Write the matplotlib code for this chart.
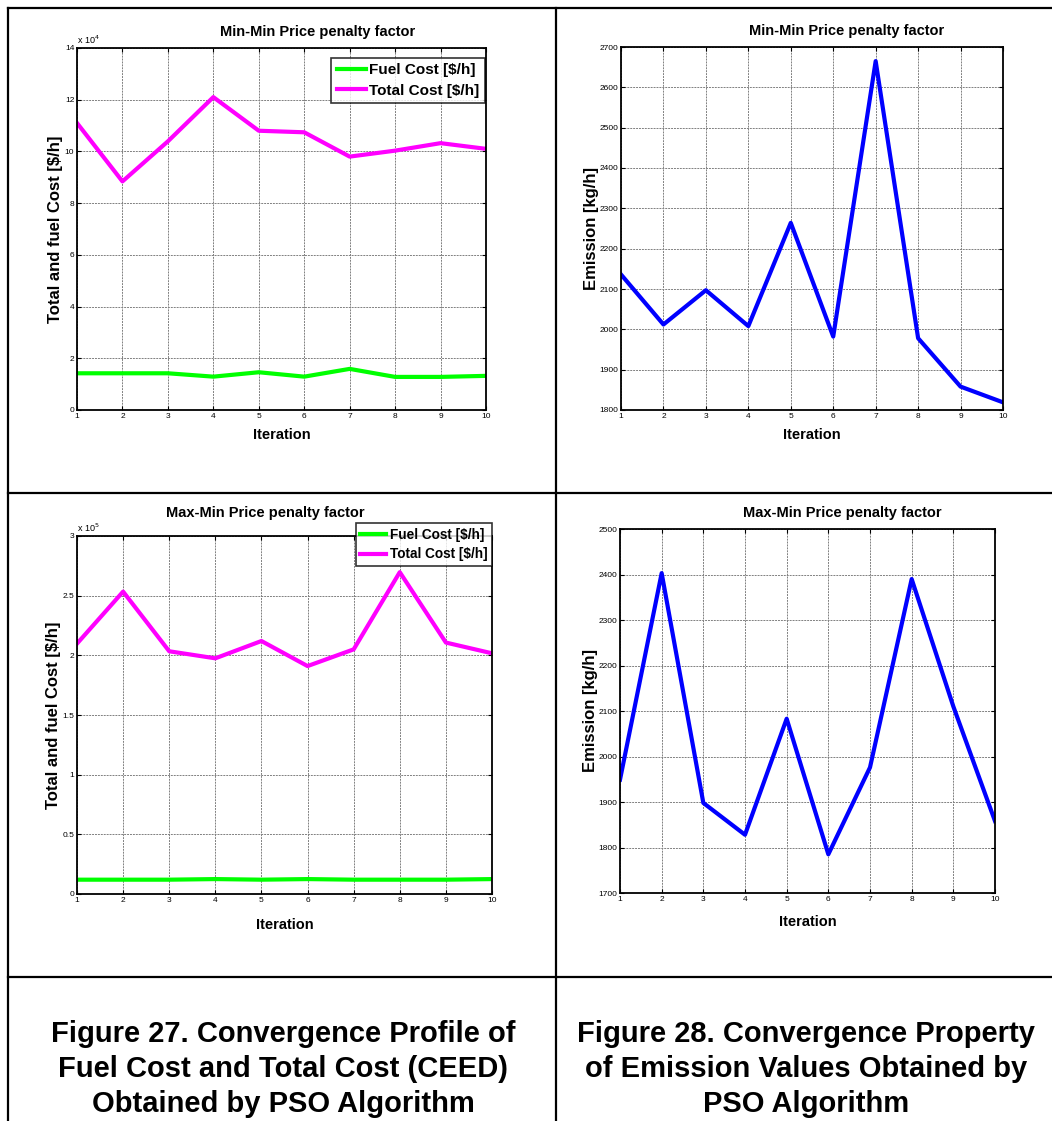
import matplotlib
matplotlib.use("Agg")
import matplotlib.pyplot as plt
from matplotlib.lines import Line2D
import numpy as np

plt.rcParams['font.family'] = ['Liberation Sans', 'DejaVu Sans']

W, H = 1052, 1121

# ---- data ----
iterations = np.arange(1, 11)

# Min-Min price penalty factor
minmin_fuel_cost = [14200, 14200, 14200, 12900, 14600, 12900, 15900, 12800, 12800, 13200]
minmin_total_cost = [111000, 88400, 103900, 121000, 108000, 107400, 98000, 100300, 103200, 101000]
minmin_emission = [2136, 2012, 2097, 2008, 2264, 1982, 2665, 1978, 1858, 1819]

# Max-Min price penalty factor
maxmin_fuel_cost = [12000, 12000, 12000, 12500, 12000, 12500, 12000, 12000, 12000, 12500]
maxmin_total_cost = [209800, 253400, 203400, 197500, 212000, 191000, 205000, 269700, 210700, 201700]
maxmin_emission = [1949, 2403, 1898, 1828, 2083, 1785, 1976, 2390, 2110, 1858]

cost_legend = ['Fuel Cost [$/h]', 'Total Cost [$/h]']
caption_left = "Figure 27. Convergence Profile of\nFuel Cost and Total Cost (CEED)\nObtained by PSO Algorithm"
caption_right = "Figure 28. Convergence Property\nof Emission Values Obtained by\nPSO Algorithm"

fig = plt.figure(figsize=(W / 100, H / 100), dpi=100)


def rect(l, t, r, b):
    return [l / W, 1 - b / H, (r - l) / W, (b - t) / H]


def fx(x):
    return x / W


def fy(y):
    return 1 - y / H


def style_axes(ax, xlabelpad):
    ax.set_xlim(1, 10)
    ax.set_xticks(iterations)
    ax.grid(True, color='#808080', linestyle=(0, (2, 1)), linewidth=0.7)
    ax.tick_params(direction='in', top=True, right=True, length=3, width=0.8,
                   labelsize=6, pad=2, colors='black')
    for s in ax.spines.values():
        s.set_linewidth(1.3)
    ax.set_xlabel('Iteration', fontsize=10.5, fontweight='bold', labelpad=xlabelpad)


def cost_panel(box, fuel, total, scale, ylim, yticks, yticklabels, title, title_x, title_y,
               exp_txt, legend_anchor, legend_fs, xlabelpad):
    ax = fig.add_axes(rect(*box))
    ax.plot(iterations, np.array(fuel) / scale, color='#00ff00', lw=3, label=cost_legend[0])
    ax.plot(iterations, np.array(total) / scale, color='#ff00ff', lw=3, label=cost_legend[1])
    style_axes(ax, xlabelpad)
    ax.set_ylim(*ylim)
    ax.set_yticks(yticks)
    ax.set_yticklabels(yticklabels)
    ax.set_ylabel('Total and fuel Cost [$/h]', fontsize=12, fontweight='bold', labelpad=1)
    leg = ax.legend(loc='upper right', bbox_to_anchor=legend_anchor,
                    prop={'weight': 'bold', 'size': legend_fs}, frameon=True, fancybox=False,
                    handlelength=1.9, handletextpad=0.25, borderpad=0.35, labelspacing=0.4,
                    borderaxespad=0)
    leg.get_frame().set_edgecolor('black')
    leg.get_frame().set_linewidth(1.2)
    fig.text(fx(title_x), fy(title_y), title, ha='center', va='center',
             fontsize=10.5, fontweight='bold')
    fig.text(fx(box[0]), fy(box[1] - 8), exp_txt, ha='left', va='center', fontsize=6.5)
    return ax


def emission_panel(box, emission, ylim, yticks, title, title_x, title_y, xlabelpad):
    ax = fig.add_axes(rect(*box))
    ax.plot(iterations, emission, color='#0000ff', lw=3)
    style_axes(ax, xlabelpad)
    ax.set_ylim(*ylim)
    ax.set_yticks(yticks)
    ax.set_ylabel('Emission [kg/h]', fontsize=12, fontweight='bold', labelpad=0)
    fig.text(fx(title_x), fy(title_y), title, ha='center', va='center',
             fontsize=10.5, fontweight='bold')
    return ax


cost_panel((77, 48, 486, 410), minmin_fuel_cost, minmin_total_cost, 1e4,
           (0, 14), np.arange(0, 15, 2), [str(v) for v in range(0, 15, 2)],
           'Min-Min Price penalty factor', 318, 32, r'x 10$^4$',
           (0.9975, 0.972), 11, 6)

cost_panel((77, 536, 492, 894), maxmin_fuel_cost, maxmin_total_cost, 1e5,
           (0, 3), np.arange(0, 3.01, 0.5), ['0', '0.5', '1', '1.5', '2', '2.5', '3'],
           'Max-Min Price penalty factor', 265, 513, r'x 10$^5$',
           (1.0, 1.036), 9.8, 10)

emission_panel((621, 47, 1003, 410), minmin_emission, (1800, 2700),
               np.arange(1800, 2701, 100), 'Min-Min Price penalty factor', 847, 31, 6)

emission_panel((620, 529, 995, 893), maxmin_emission, (1700, 2500),
               np.arange(1700, 2501, 100), 'Max-Min Price penalty factor', 842, 513, 9)

# ---- table frame ----
frame_kw = dict(color='black', linewidth=1.6, transform=fig.transFigure)
fig.add_artist(Line2D([fx(8), fx(8)], [fy(8), fy(H)], **frame_kw))
fig.add_artist(Line2D([fx(556), fx(556)], [fy(8), fy(H)], **frame_kw))
fig.add_artist(Line2D([fx(8), fx(W)], [fy(8), fy(8)], **frame_kw))
fig.add_artist(Line2D([fx(8), fx(W)], [fy(493), fy(493)], **frame_kw))
fig.add_artist(Line2D([fx(8), fx(W)], [fy(977), fy(977)], **frame_kw))

# ---- captions ----
fig.text(fx(283), fy(1069), caption_left, ha='center', va='center', fontsize=21,
         fontweight='bold', linespacing=1.34)
fig.text(fx(806), fy(1069), caption_right, ha='center', va='center', fontsize=21,
         fontweight='bold', linespacing=1.34)

fig.savefig('out.png', dpi=100)
